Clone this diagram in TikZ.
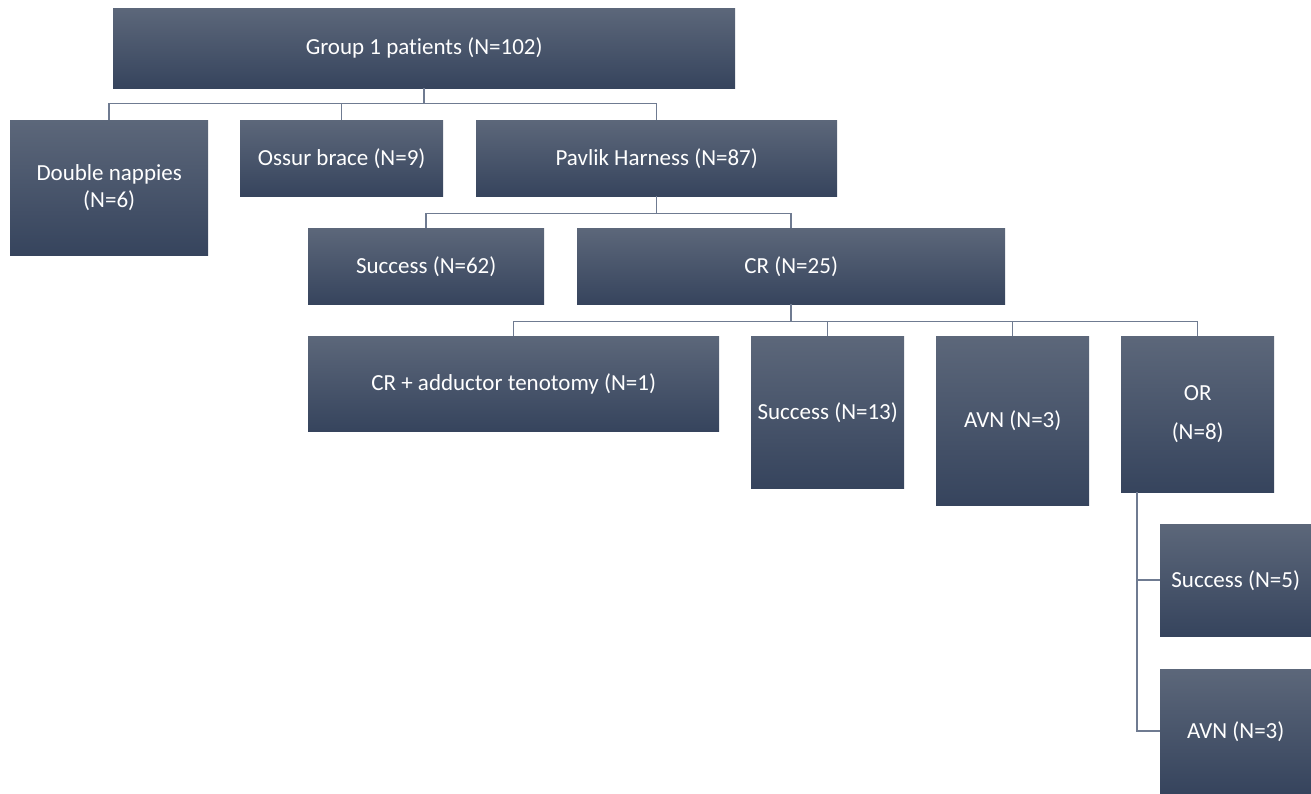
\documentclass[tikz,border=0pt]{standalone}
\usepackage{fontspec}
\setmainfont{Carlito}[Ligatures=NoCommon]
\definecolor{boxtop}{HTML}{5C677A}
\definecolor{boxbot}{HTML}{36445D}
\definecolor{linkc}{HTML}{6F7B91}
\tikzset{
  box/.style={anchor=north west, top color=boxtop, bottom color=boxbot, text=white,
    align=center, inner sep=0pt, font=\fontsize{23}{27}\selectfont},
  link/.style={draw=linkc, line width=1.5pt}
}
\begin{document}
\begin{tikzpicture}[x=1pt, y=-1pt]
\useasboundingbox (0,0) rectangle (1311,793);

\node[box, minimum width=622pt, minimum height=80pt] (grp) at (113,8) {Group 1 patients (N=102)};
\node[box, minimum width=198pt, minimum height=135pt] (nap) at (10,120) {Double nappies\\(N=6)};
\node[box, minimum width=203pt, minimum height=76pt] (oss) at (240,120) {Ossur brace (N=9)};
\node[box, minimum width=361pt, minimum height=76pt] (pav) at (476,120) {Pavlik Harness (N=87)};

\node[box, minimum width=236pt, minimum height=76pt] (suc) at (308,228) {Success (N=62)};
\node[box, minimum width=428pt, minimum height=76pt] (cr) at (577,228) {CR (N=25)};

\node[box, minimum width=411pt, minimum height=95pt] (add) at (308,336) {CR + adductor tenotomy (N=1)};
\node[box, minimum width=153pt, minimum height=152pt] (suca) at (751,336) {Success (N=13)};
\node[box, minimum width=153pt, minimum height=169pt] (avna) at (936,336) {AVN (N=3)};
\node[box, minimum width=153pt, minimum height=156pt] (or) at (1121,336) {OR\\[12pt](N=8)};

\node[box, minimum width=151pt, minimum height=112pt] (sucb) at (1160,524) {Success (N=5)};
\node[box, minimum width=151pt, minimum height=124pt] (avnb) at (1160,669) {AVN (N=3)};

% tree links
\foreach \c in {nap,oss,pav} \draw[link] (grp.south) -- ++(0,15) -| (\c.north);
\foreach \c in {suc,cr} \draw[link] (pav.south) -- ++(0,17) -| (\c.north);
\foreach \c in {add,suca,avna,or} \draw[link] (cr.south) -- ++(0,17) -| (\c.north);
\coordinate (orb) at ([xshift=16pt]or.south west);
\draw[link] (orb) |- (sucb.west);
\draw[link] (orb) |- (avnb.west);
\end{tikzpicture}
\end{document}
